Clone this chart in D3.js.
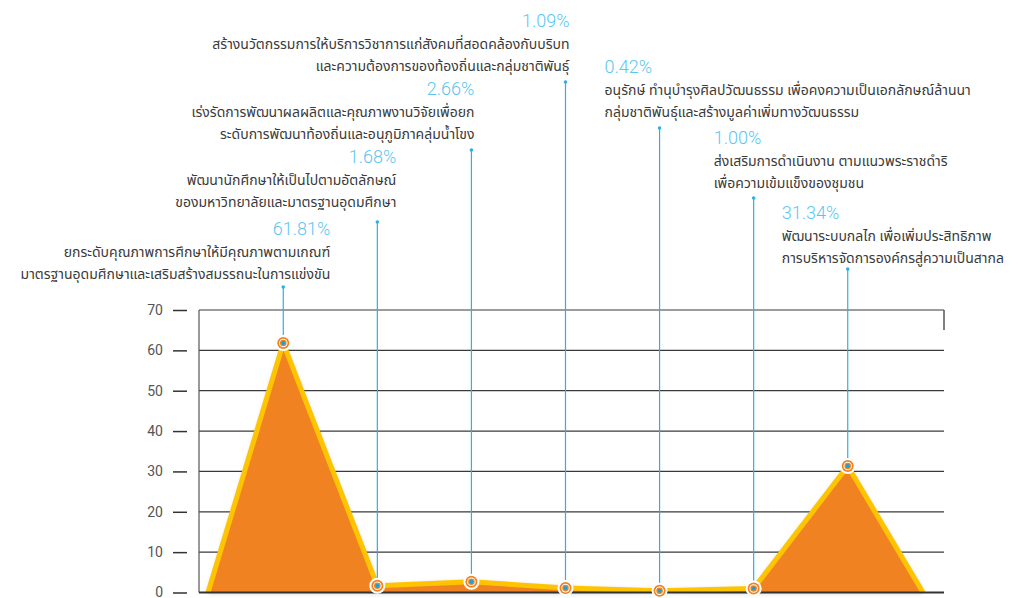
<!DOCTYPE html>
<html>
<head>
<meta charset="utf-8">
<script src="https://cdn.jsdelivr.net/npm/d3@7"></script>
<style>
  body { margin: 0; background: #fff; }
  svg { display: block; }
</style>
</head>
<body>
<svg id="chart" width="1021" height="598"></svg>
<script>
// datos
const categorias = ["c1", "c2", "c3", "c4", "c5", "c6", "c7"];
const valores = [61.81, 1.68, 2.66, 1.09, 0.42, 1.00, 31.34];
const etiquetas = [
  ["ยกระดับคุณภาพการศึกษาให้มีคุณภาพตามเกณฑ์", "มาตรฐานอุดมศึกษาและเสริมสร้างสมรรถนะในการแข่งขัน"],
  ["พัฒนานักศึกษาให้เป็นไปตามอัตลักษณ์", "ของมหาวิทยาลัยและมาตรฐานอุดมศึกษา"],
  ["เร่งรัดการพัฒนาผลผลิตและคุณภาพงานวิจัยเพื่อยก", "ระดับการพัฒนาท้องถิ่นและอนุภูมิภาคลุ่มน้ำโขง"],
  ["สร้างนวัตกรรมการให้บริการวิชาการแก่สังคมที่สอดคล้องกับบริบท", "และความต้องการของท้องถิ่นและกลุ่มชาติพันธุ์"],
  ["อนุรักษ์ ทำนุบำรุงศิลปวัฒนธรรม เพื่อคงความเป็นเอกลักษณ์ล้านนา", "กลุ่มชาติพันธุ์และสร้างมูลค่าเพิ่มทางวัฒนธรรม"],
  ["ส่งเสริมการดำเนินงาน ตามแนวพระราชดำริ", "เพื่อความเข้มแข็งของชุมชน"],
  ["พัฒนาระบบกลไก เพื่อเพิ่มประสิทธิภาพ", "การบริหารจัดการองค์กรสู่ความเป็นสากล"]
];
const ticksY = [0, 10, 20, 30, 40, 50, 60, 70];

// posición de cada rótulo (lado, desplazamiento x, línea base del %, extremo superior de la guía)
const rotulos = [
  { lado: "izq", dx: 47, y: 235, tope: 287 },
  { lado: "izq", dx: 19, y: 163, tope: 222 },
  { lado: "izq", dx: 3, y: 95, tope: 150 },
  { lado: "izq", dx: 4, y: 27, tope: 82 },
  { lado: "der", dx: -55, y: 73, tope: 128 },
  { lado: "der", dx: -40, y: 144, tope: 198 },
  { lado: "der", dx: -66, y: 219, tope: 269 }
];

const svg = d3.select("#chart");
const izq = 199, der = 944, arriba = 310, abajo = 592.5;

const x = d3.scalePoint().domain(categorias).range([208, 923]).padding(0.8);
const y = d3.scaleLinear().domain([0, 70]).range([abajo, arriba]);

const defs = svg.append("defs");
const sombra = defs.append("filter").attr("id", "sombra")
  .attr("x", "-10%").attr("y", "-10%").attr("width", "120%").attr("height", "120%");
sombra.append("feDropShadow").attr("dx", 0).attr("dy", 0).attr("stdDeviation", 2.5)
  .attr("flood-color", "#000").attr("flood-opacity", 0.25);

// rejilla
svg.append("g")
  .selectAll("line")
  .data(ticksY.filter(d => d > 0))
  .enter().append("line")
  .attr("x1", izq).attr("x2", der)
  .attr("y1", d => y(d)).attr("y2", d => y(d))
  .attr("stroke", "#3a3a3a").attr("stroke-width", 1.2);

svg.append("line")
  .attr("x1", izq).attr("x2", izq).attr("y1", arriba).attr("y2", abajo)
  .attr("stroke", "#555").attr("stroke-width", 1.2);
svg.append("line")
  .attr("x1", der).attr("x2", der).attr("y1", arriba).attr("y2", arriba + 20)
  .attr("stroke", "#555").attr("stroke-width", 1.5);

// eje y
const ejeY = d3.axisLeft(y).tickValues(ticksY).tickSize(14).tickPadding(10);
const gEje = svg.append("g").attr("transform", `translate(${izq - 12},0)`).call(ejeY);
gEje.select(".domain").remove();
gEje.selectAll(".tick line").attr("stroke", "#333").attr("stroke-width", 1.5);
gEje.selectAll(".tick text")
  .attr("fill", "#555").style("font-family", "Roboto, sans-serif")
  .style("font-size", "14px");

// área
const puntos = valores.map((v, i) => ({ x: x(categorias[i]), v }));
const serie = [{ x: x.range()[0], v: 0 }, ...puntos, { x: x.range()[1], v: 0 }];

const area = d3.area().x(d => d.x).y0(abajo).y1(d => y(d.v));
const linea = d3.line().x(d => d.x).y(d => y(d.v));

svg.append("path").datum(serie)
  .attr("d", area)
  .attr("fill", "#f08220")
  .attr("filter", "url(#sombra)");
svg.append("path").datum(serie)
  .attr("d", linea)
  .attr("fill", "none")
  .attr("stroke", "#ffc400")
  .attr("stroke-width", 5)
  .attr("stroke-linejoin", "round");

// eje x
svg.append("line")
  .attr("x1", izq).attr("x2", der).attr("y1", abajo).attr("y2", abajo)
  .attr("stroke", "#333").attr("stroke-width", 2);

// guías y rótulos
const gRot = svg.append("g");
puntos.forEach((p, i) => {
  const r = rotulos[i];
  gRot.append("line")
    .attr("x1", p.x).attr("x2", p.x)
    .attr("y1", r.tope).attr("y2", y(p.v))
    .attr("stroke", "#2fafe3").attr("stroke-width", 1.2);
  gRot.append("circle").attr("cx", p.x).attr("cy", r.tope).attr("r", 1.8).attr("fill", "#2fafe3");

  const ax = p.x + r.dx;
  const anchor = r.lado === "izq" ? "end" : "start";
  gRot.append("text")
    .attr("x", ax).attr("y", r.y)
    .attr("text-anchor", anchor)
    .attr("fill", "#5cc6f0")
    .style("font-family", "Roboto, sans-serif")
    .style("font-weight", 300)
    .style("font-size", "18px")
    .text(valores[i].toFixed(2) + "%");
  etiquetas[i].forEach((t, j) => {
    gRot.append("text")
      .attr("x", ax).attr("y", r.y + 22 * (j + 1))
      .attr("text-anchor", anchor)
      .attr("fill", "#3a3a3a")
      .style("font-family", "'Noto Sans Thai', 'Noto Sans', sans-serif")
      .style("font-size", "14px")
      .text(t);
  });
});

// marcadores
const gPts = svg.append("g").selectAll("g").data(puntos).enter().append("g")
  .attr("transform", d => `translate(${d.x},${y(d.v)})`);
gPts.append("circle").attr("r", 8).attr("fill", "#fff");
gPts.append("circle").attr("r", 6).attr("fill", "#f08220");
gPts.append("circle").attr("r", 4.3).attr("fill", "#fff");
gPts.append("circle").attr("r", 3.3).attr("fill", "#f08220");
gPts.append("circle").attr("r", 2).attr("fill", "#1d9fd8");
</script>
</body>
</html>
